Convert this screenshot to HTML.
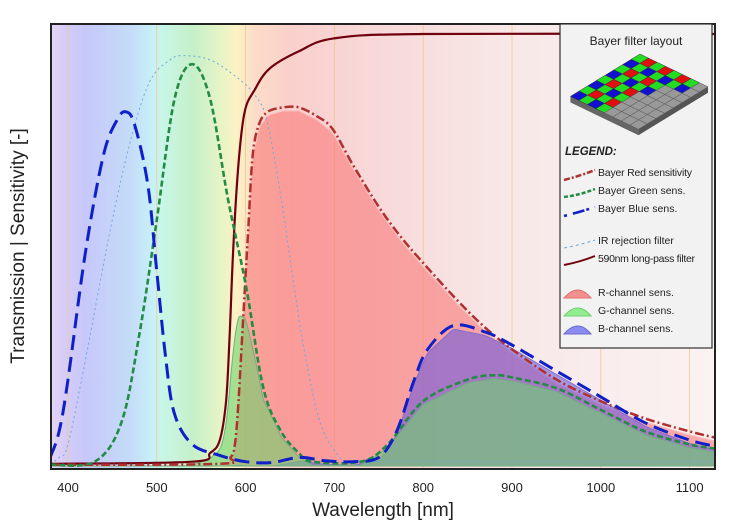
<!DOCTYPE html>
<html><head><meta charset="utf-8">
<style>
html,body{margin:0;padding:0;background:#fff;}
svg{display:block;font-family:"Liberation Sans Narrow","Liberation Sans",sans-serif;}
</style></head>
<body>
<svg id="chart" width="743" height="531" viewBox="0 0 743 531">
<defs>
<linearGradient id="bg" x1="51" x2="715" y1="0" y2="0" gradientUnits="userSpaceOnUse">
<stop offset="0" stop-color="#e4d6f6"/><stop offset="0.02" stop-color="#d6ccf8"/>
<stop offset="0.053" stop-color="#c6c8fa"/><stop offset="0.12" stop-color="#c4dcf8"/>
<stop offset="0.153" stop-color="#c8f0f8"/><stop offset="0.167" stop-color="#c8f6e8"/>
<stop offset="0.214" stop-color="#c6f0c8"/><stop offset="0.26" stop-color="#eaf4c6"/>
<stop offset="0.28" stop-color="#fcf2c4"/><stop offset="0.307" stop-color="#fcdcc8"/>
<stop offset="0.36" stop-color="#fad0cc"/><stop offset="0.454" stop-color="#f8d6d6"/>
<stop offset="0.694" stop-color="#f8e8e8"/><stop offset="1" stop-color="#fbf2f2"/>
</linearGradient>
<clipPath id="plotclip"><rect x="51" y="24" width="664" height="445"/></clipPath>
</defs>
<rect x="51" y="24" width="664" height="445" fill="url(#bg)"/>
<g id="grid"></g>
<g id="marks" clip-path="url(#plotclip)"></g>
<rect x="51" y="24" width="664" height="445" fill="none" stroke="#222" stroke-width="2"/>
<g id="xticks"></g>
<text x="383" y="516" font-size="19" text-anchor="middle" fill="#222">Wavelength [nm]</text>
<text transform="translate(24,246) rotate(-90)" font-size="19" text-anchor="middle" fill="#222">Transmission | Sensitivity [-]</text>

<g>
<rect x="560" y="24" width="152" height="324" fill="#f2f2f2" stroke="#333" stroke-width="1.2"/>
<text x="636" y="45" font-size="12" text-anchor="middle" fill="#222">Bayer filter layout</text>
<g id="bayer"></g>
<text x="565" y="155" font-size="11.5" font-weight="bold" font-style="italic" fill="#222">LEGEND:</text>
<g><path d="M564,180 Q580,176 595,170" stroke="#b03030" stroke-width="2.5" fill="none" stroke-dasharray="6 2 2 2"/><text x="598" y="176" font-size="10.5" letter-spacing="-0.2" fill="#222">Bayer Red sensitivity</text></g>
<g><path d="M564,197 Q580,195 595,189" stroke="#228b44" stroke-width="2.5" fill="none" stroke-dasharray="4 2"/><text x="598" y="194" font-size="10.5" fill="#222">Bayer Green sens.</text></g>
<g><path d="M564,216 Q580,212 595,207" stroke="#1020c8" stroke-width="2.5" fill="none" stroke-dasharray="3 6 12 2"/><text x="598" y="212" font-size="10.5" fill="#222">Bayer Blue sens.</text></g>
<g><path d="M564,248 Q580,245 595,240" stroke="#6fa8dc" stroke-width="1" fill="none" stroke-dasharray="3 3"/><text x="598" y="244" font-size="10.5" fill="#222">IR rejection filter</text></g>
<g><path d="M564,265 Q580,262 595,256" stroke="#700010" stroke-width="2" fill="none"/><text x="598" y="262" font-size="10.5" letter-spacing="-0.3" fill="#222">590nm long-pass filter</text></g>
<g><path d="M564,298 Q578,282 591,298 Z" fill="#f49090" stroke="#e07070"/><text x="598" y="296" font-size="10.5" fill="#222">R-channel sens.</text></g>
<g><path d="M564,316 Q578,300 591,316 Z" fill="#90ee90" stroke="#70d070"/><text x="598" y="314" font-size="10.5" fill="#222">G-channel sens.</text></g>
<g><path d="M564,334 Q578,318 591,334 Z" fill="#8c8cf0" stroke="#6a6ad0"/><text x="598" y="332" font-size="10.5" fill="#222">B-channel sens.</text></g>
</g>
</svg>
<script>
// ---- data ----
const xTicks = [400,500,600,700,800,900,1000,1100];
const blueWl = [380,390,400,420,440,455,465,475,490,500,510,520,540,570,600,630,661,690,720,750,770,790,805,834,870,900,950,1000,1050,1100,1130];
const blueVal = [0.02,0.08,0.2,0.5,0.72,0.8,0.82,0.79,0.65,0.45,0.25,0.12,0.05,0.025,0.01,0.008,0.02,0.012,0.01,0.02,0.08,0.2,0.27,0.325,0.31,0.28,0.22,0.16,0.1,0.06,0.045];
const greenWl = [380,430,460,480,500,520,540,560,580,601,620,640,660,675,730,760,800,850,880,900,950,1000,1050,1100,1130];
const greenVal = [0.003,0.01,0.1,0.3,0.57,0.85,0.93,0.85,0.62,0.41,0.18,0.08,0.03,0.01,0.01,0.05,0.15,0.2,0.21,0.205,0.18,0.13,0.08,0.05,0.04];
const redWl = [380,570,583,588,592,597,603,608,615,625,642,660,680,698,720,750,775,800,840,870,900,950,1000,1050,1100,1130];
const redVal = [0.003,0.005,0.02,0.05,0.15,0.33,0.55,0.72,0.79,0.82,0.83,0.83,0.81,0.78,0.7,0.6,0.53,0.47,0.38,0.32,0.27,0.2,0.15,0.11,0.08,0.065];
const irWl = [380,390,400,420,447,470,492,515,530,560,590,610,624,640,650,665,684,706,720,800,1130];
const irVal = [0.005,0.02,0.05,0.25,0.54,0.75,0.89,0.94,0.95,0.94,0.9,0.86,0.8,0.62,0.48,0.28,0.1,0.02,0.012,0.01,0.01];
const lpWl = [380,540,560,571,578,582,586,592,599,610,627,660,700,800,1130];
const lpVal = [0.005,0.01,0.03,0.06,0.15,0.3,0.5,0.7,0.82,0.87,0.92,0.96,0.99,1.0,1.0];

// ---- axes ----
const xs = nm => 68 + (nm - 400) * 0.888;
const ys = v => 466 - v * 432;
const NS = "http://www.w3.org/2000/svg";
function mk(tag, attrs, parent){const e=document.createElementNS(NS,tag);for(const k in attrs)e.setAttribute(k,attrs[k]);parent.appendChild(e);return e;}
function interp(wl, val, x){
  if(x<=wl[0])return val[0];
  for(let i=1;i<wl.length;i++){if(x<=wl[i]){const t=(x-wl[i-1])/(wl[i]-wl[i-1]);return val[i-1]+t*(val[i]-val[i-1]);}}
  return val[val.length-1];
}
function smooth(pts){
  let d="M"+pts[0][0].toFixed(1)+","+pts[0][1].toFixed(1);
  for(let i=0;i<pts.length-1;i++){
    const p0=pts[Math.max(i-1,0)],p1=pts[i],p2=pts[i+1],p3=pts[Math.min(i+2,pts.length-1)];
    const c1=[p1[0]+(p2[0]-p0[0])/6,p1[1]+(p2[1]-p0[1])/6];
    const c2=[p2[0]-(p3[0]-p1[0])/6,p2[1]-(p3[1]-p1[1])/6];
    d+="C"+c1[0].toFixed(1)+","+c1[1].toFixed(1)+" "+c2[0].toFixed(1)+","+c2[1].toFixed(1)+" "+p2[0].toFixed(1)+","+p2[1].toFixed(1);
  }
  return d;
}
const grid=document.getElementById('grid'), tk=document.getElementById('xticks'), marks=document.getElementById('marks');
xTicks.forEach(t=>{
  const l=mk('line',{x1:xs(t),x2:xs(t),y1:25,y2:468,stroke:'#f0c890','stroke-width':0.8},grid);
  
  
  const tx=mk('text',{x:xs(t),y:492,'font-size':13,'text-anchor':'middle',fill:'#222'},tk);
  tx.textContent=t;
  
  
});
// fills
function fillPath(wl,val,useLp){
  const pts=[];
  for(let x=380;x<=1130;x+=4){
    let v=interp(wl,val,x)*(useLp?interp(lpWl,lpVal,x):1);
    pts.push([xs(x),ys(Math.max(0,v-0.008))]);
  }
  return smooth(pts)+"L"+xs(1130)+","+ys(0)+"L"+xs(380)+","+ys(0)+"Z";
}
const rf=mk('path',{d:fillPath(redWl,redVal,false),fill:'rgba(250,120,120,0.6)',stroke:'#fbc0c0','stroke-width':1.2},marks);


const bf=mk('path',{d:fillPath(blueWl,blueVal,true),fill:'rgba(110,90,220,0.6)',stroke:'#8070d0','stroke-width':1},marks);


const gf=mk('path',{d:fillPath(greenWl,greenVal,true),fill:'rgba(110,210,110,0.6)',stroke:'#70b080','stroke-width':1},marks);


function line(wl,val,attrs,name){
  const pts=wl.map((w,i)=>[xs(w),ys(val[i])]);
  attrs.d=smooth(pts);attrs.fill='none';
  const p=mk('path',attrs,marks);
  
  
}
line(irWl,irVal,{stroke:'#6fa8dc','stroke-width':1,'stroke-dasharray':'2 3'},'ir-rejection-line');
line(lpWl,lpVal,{stroke:'#700010','stroke-width':2.2},'longpass-filter-line');
line(redWl,redVal,{stroke:'#b03030','stroke-width':2.5,'stroke-dasharray':'9 3 2 3'},'bayer-red-line');
line(greenWl,greenVal,{stroke:'#228b44','stroke-width':2.6,'stroke-dasharray':'6 3'},'bayer-green-line');
line(blueWl,blueVal,{stroke:'#1020c8','stroke-width':3,'stroke-dasharray':'15 7'},'bayer-blue-line');

// bayer illustration
const bay=document.getElementById('bayer');
const bTop=[640,54], bu=[-8.7,5.3], bv=[8.5,4.1];
const P=(i,j)=>[bTop[0]+i*bu[0]+j*bv[0], bTop[1]+i*bu[1]+j*bv[1]];
const c1=P(8,0),c2=P(8,8),c3=P(0,8);
mk('polygon',{points:[c1,c2,[c2[0],c2[1]+6],[c1[0],c1[1]+6]].map(p=>p.join(',')).join(' '),fill:'#666'},bay);
mk('polygon',{points:[c2,c3,[c3[0],c3[1]+6],[c2[0],c2[1]+6]].map(p=>p.join(',')).join(' '),fill:'#555'},bay);
for(let i=0;i<8;i++)for(let j=0;j<8;j++){
  const colored = j < 6 - Math.floor(i/2) + (i>5?1:0) || (i<2 && j<7);
  let col='#999';
  if(colored){col=((i+j)%2==0)?'#22dd22':(i%2==0?'#e01010':'#1010d0');}
  const q=[P(i,j),P(i+1,j),P(i+1,j+1),P(i,j+1)];
  mk('polygon',{points:q.map(p=>p.join(',')).join(' '),fill:col,stroke:colored?'#333':'#555','stroke-width':0.5},bay);
}
</script>
</body></html>
